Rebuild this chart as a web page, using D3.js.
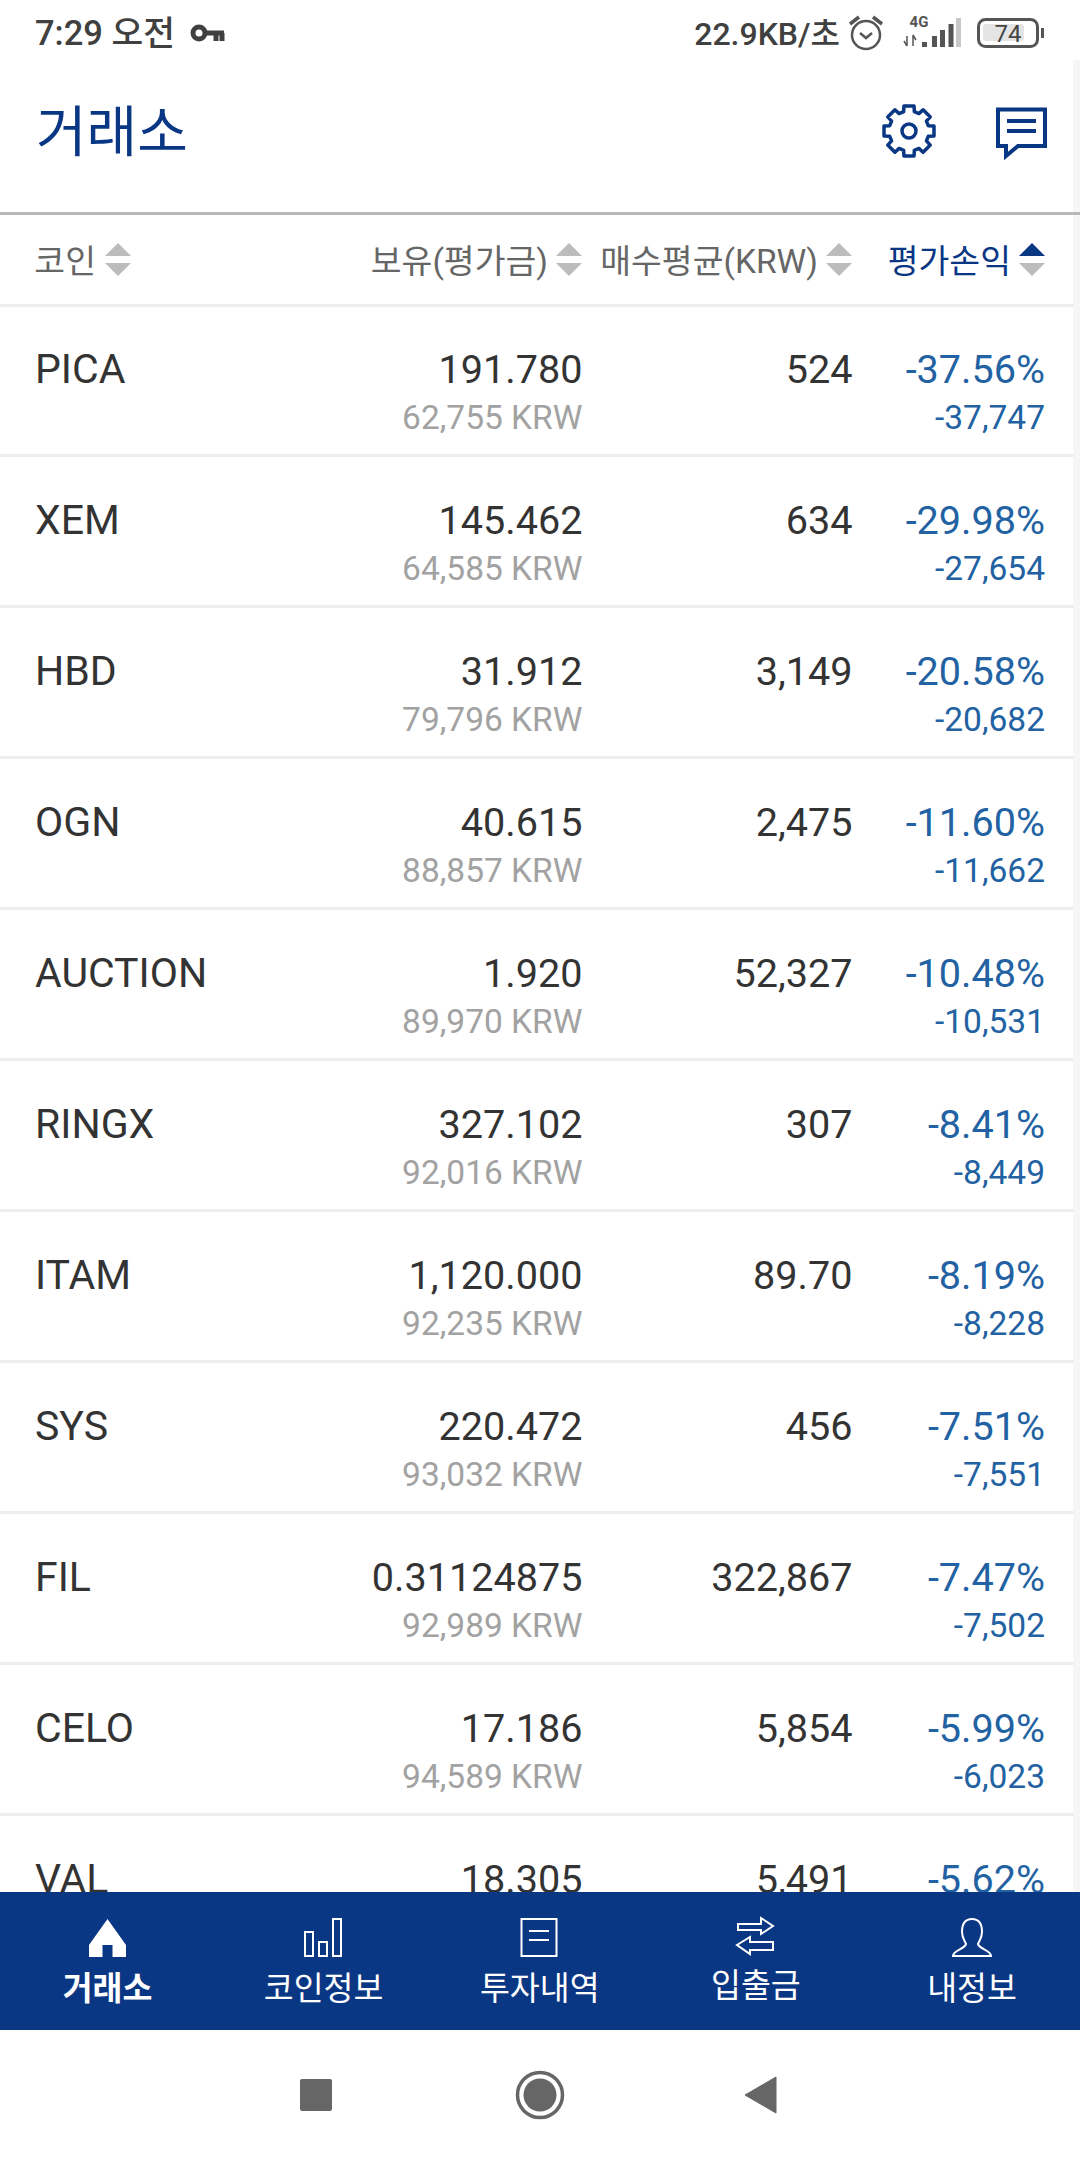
<!DOCTYPE html>
<html lang="ko">
<head>
<meta charset="utf-8">
<script src="https://cdn.jsdelivr.net/npm/d3@7"></script>
<style>
html, body { margin: 0; padding: 0; background: #fff; }
svg { display: block; }
text { font-family: Roboto, "Noto Sans CJK KR", sans-serif; }
</style>
</head>
<body>
<div id="chart"></div>
<script>
// Table data
var coins = ["PICA", "XEM", "HBD", "OGN", "AUCTION", "RINGX", "ITAM", "SYS", "FIL", "CELO", "VAL"];
var holdings = ["191.780", "145.462", "31.912", "40.615", "1.920", "327.102", "1,120.000", "220.472", "0.31124875", "17.186", "18.305"];
var valuations = ["62,755 KRW", "64,585 KRW", "79,796 KRW", "88,857 KRW", "89,970 KRW", "92,016 KRW", "92,235 KRW", "93,032 KRW", "92,989 KRW", "94,589 KRW", ""];
var avgPrices = ["524", "634", "3,149", "2,475", "52,327", "307", "89.70", "456", "322,867", "5,854", "5,491"];
var profitPct = ["-37.56%", "-29.98%", "-20.58%", "-11.60%", "-10.48%", "-8.41%", "-8.19%", "-7.51%", "-7.47%", "-5.99%", "-5.62%"];
var profitKrw = ["-37,747", "-27,654", "-20,682", "-11,662", "-10,531", "-8,449", "-8,228", "-7,551", "-7,502", "-6,023", ""];

var headers = ["코인", "보유(평가금)", "매수평균(KRW)", "평가손익"];
var navLabels = ["거래소", "코인정보", "투자내역", "입출금", "내정보"];

var navy = "#0a3784";
var blue = "#2262a2";

var svg = d3.select("#chart").append("svg")
    .attr("width", 1080)
    .attr("height", 2160);

svg.append("rect").attr("width", 1080).attr("height", 2160).attr("fill", "#fff");

// faint shadow down the right edge of the page
svg.append("rect").attr("x", 1073).attr("y", 60).attr("width", 7).attr("height", 1832).attr("fill", "#f6f6f6");

// scales
var rowY = d3.scaleBand().domain(d3.range(coins.length)).range([304, 304 + 151 * coins.length]);
var navX = d3.scalePoint().domain(navLabels).range([107.5, 972]);

////////////////////////////////////////////////////////////////
// rows
var rows = svg.append("g").selectAll("g")
    .data(coins)
    .enter().append("g")
    .attr("transform", function(d, i) { return "translate(0," + rowY(i) + ")"; });

rows.append("rect")
    .attr("y", 150).attr("width", 1074).attr("height", 3)
    .attr("fill", "#eeeeee");

function cell(x, y, size, color, anchor, values) {
    rows.append("text")
        .attr("x", x).attr("y", y)
        .attr("font-size", size)
        .attr("fill", color)
        .attr("text-anchor", anchor)
        .text(function(d, i) { return values[i]; });
}

cell(35, 79, 41, "#333", "start", coins);
cell(582.5, 79, 39.6, "#333", "end", holdings);
cell(852.5, 79, 39.6, "#333", "end", avgPrices);
cell(1045, 79, 39.6, blue, "end", profitPct);
cell(582.5, 125, 33.5, "#a2a2a2", "end", valuations);
cell(1045, 125, 33.5, blue, "end", profitKrw);

////////////////////////////////////////////////////////////////
// header row
svg.append("rect").attr("y", 304).attr("width", 1074).attr("height", 3).attr("fill", "#eeeeee");
svg.append("rect").attr("y", 212).attr("width", 1080).attr("height", 3).attr("fill", "#b8b8b8");

var headerRight = [96, 548, 818, 1011];
var arrowX = [118, 569, 839, 1032];

svg.append("g").selectAll("text")
    .data(headers)
    .enter().append("text")
    .attr("x", function(d, i) { return headerRight[i]; })
    .attr("y", 273)
    .attr("text-anchor", "end")
    .attr("font-size", 33.5)
    .attr("fill", function(d, i) { return i == 3 ? navy : "#666"; })
    .text(function(d) { return d; });

arrowX.forEach(function(x, i) {
    svg.append("path")
        .attr("d", "M" + (x - 13) + " 256L" + x + " 243L" + (x + 13) + " 256Z")
        .attr("fill", i == 3 ? navy : "#bcbcbc");
    svg.append("path")
        .attr("d", "M" + (x - 13) + " 263L" + x + " 276L" + (x + 13) + " 263Z")
        .attr("fill", "#bcbcbc");
});

////////////////////////////////////////////////////////////////
// status bar
svg.append("text").attr("x", 35).attr("y", 45).attr("font-size", 34.5).attr("font-weight", 500).attr("fill", "#404040").text("7:29 오전");

var keyIcon = svg.append("g").attr("fill", "none").attr("stroke", "#404040");
keyIcon.append("circle").attr("cx", 199).attr("cy", 33).attr("r", 6).attr("stroke-width", 5);
keyIcon.append("path").attr("d", "M206 33H224M216 33V41M222 33V41").attr("stroke-width", 5);

svg.append("text").attr("x", 840).attr("y", 45).attr("text-anchor", "end").attr("font-size", 32).attr("font-weight", 500).attr("fill", "#404040").text("22.9KB/초");

var alarm = svg.append("g").attr("fill", "none").attr("stroke", "#555").attr("stroke-width", 2.5);
alarm.append("circle").attr("cx", 866).attr("cy", 35).attr("r", 14);
alarm.append("path").attr("d", "M860 33L866 38L872 33");
alarm.append("path").attr("d", "M850 24L859 17M882 24L873 17").attr("stroke-width", 3.5);

svg.append("text").attr("x", 919).attr("y", 27).attr("text-anchor", "middle").attr("font-size", 15).attr("font-weight", 700).attr("fill", "#555").text("4G");
svg.append("path").attr("d", "M907 46V36M904 41L907 46M913 35V46M913 35L916 40").attr("fill", "none").attr("stroke", "#555").attr("stroke-width", 1.5);

var barLeft = [922, 932, 940, 948.5, 956];
var barTop = [42, 36, 30, 24, 18];
svg.append("g").selectAll("rect")
    .data(barLeft)
    .enter().append("rect")
    .attr("x", function(d) { return d; })
    .attr("y", function(d, i) { return barTop[i]; })
    .attr("width", 5)
    .attr("height", function(d, i) { return 47 - barTop[i]; })
    .attr("fill", function(d, i) { return i == 4 ? "#c8c8c8" : "#555"; });

svg.append("rect").attr("x", 983).attr("y", 24).attr("width", 41).attr("height", 17).attr("rx", 3).attr("fill", "#e4e4e4");
svg.append("rect").attr("x", 978.5).attr("y", 19.5).attr("width", 59).attr("height", 27).attr("rx", 7).attr("fill", "none").attr("stroke", "#555").attr("stroke-width", 3);
svg.append("rect").attr("x", 1041).attr("y", 28).attr("width", 3).attr("height", 10).attr("fill", "#555");
svg.append("text").attr("x", 1008).attr("y", 42).attr("text-anchor", "middle").attr("font-size", 24).attr("fill", "#444").text("74");

////////////////////////////////////////////////////////////////
// title bar
svg.append("text").attr("x", 36).attr("y", 151).attr("font-size", 55).attr("fill", navy).text("거래소");

var gear = svg.append("g").attr("transform", "translate(909,131)").attr("fill", "none").attr("stroke", navy).attr("stroke-width", 3.5);
gear.append("circle").attr("r", 7);
var gearPts = [];
d3.range(8).forEach(function(i) {
    var a = i * Math.PI / 4 - Math.PI / 2;
    [[-0.27, 20], [-0.2, 25.5], [0.2, 25.5], [0.27, 20]].forEach(function(p) {
        gearPts.push([Math.cos(a + p[0]) * p[1], Math.sin(a + p[0]) * p[1]]);
    });
});
gear.append("path").attr("d", d3.line().curve(d3.curveLinearClosed)(gearPts)).attr("stroke-linejoin", "round");

svg.append("path")
    .attr("d", "M998 109.5H1045V146H1018L1006 156V146H998Z")
    .attr("fill", "none").attr("stroke", navy).attr("stroke-width", 4);
svg.append("path").attr("d", "M1007 121H1036M1007 131H1036").attr("stroke", navy).attr("stroke-width", 4);

////////////////////////////////////////////////////////////////
// bottom tab bar
svg.append("rect").attr("y", 1892).attr("width", 1080).attr("height", 138).attr("fill", navy);

svg.append("g").selectAll("text")
    .data(navLabels)
    .enter().append("text")
    .attr("x", function(d) { return navX(d); })
    .attr("y", function(d, i) { return i == 3 ? 1997 : 2000; })
    .attr("text-anchor", "middle")
    .attr("font-size", 32.5)
    .attr("font-weight", function(d, i) { return i == 0 ? 700 : 400; })
    .attr("fill", "#fff")
    .text(function(d) { return d; });

var iconStroke = function(sel) { return sel.attr("fill", "none").attr("stroke", "#fff").attr("stroke-width", 2); };

// home
svg.append("path")
    .attr("d", "M107.5 1919L126 1945V1957H112.5V1945H102.5V1957H89V1945Z")
    .attr("fill", "#fff");

// bars
[[305, 1932, 8, 24], [319, 1942, 8, 14], [333, 1919, 8, 37]].forEach(function(b) {
    iconStroke(svg.append("rect")).attr("x", b[0]).attr("y", b[1]).attr("width", b[2]).attr("height", b[3]);
});

// document
iconStroke(svg.append("rect")).attr("x", 521.5).attr("y", 1919).attr("width", 35).attr("height", 37);
iconStroke(svg.append("path")).attr("d", "M529 1931H549M529 1940H549");

// transfer arrows
iconStroke(svg.append("path")).attr("d", "M738 1924H761V1918L773 1926L761 1934V1930H738Z");
iconStroke(svg.append("path")).attr("d", "M773 1942H750V1937L737 1945L750 1954V1950H773Z");

// person
iconStroke(svg.append("path")).attr("d", "M972 1919C964 1919 962 1926 962 1932C962 1938 965 1941 966 1944C965 1949 953 1950 953 1956H991C991 1950 979 1949 978 1944C979 1941 982 1938 982 1932C982 1926 980 1919 972 1919Z");

////////////////////////////////////////////////////////////////
// system navigation buttons
svg.append("rect").attr("x", 300).attr("y", 2079).attr("width", 32).attr("height", 32).attr("rx", 2).attr("fill", "#666");
svg.append("circle").attr("cx", 540).attr("cy", 2095).attr("r", 22.5).attr("fill", "#fff").attr("stroke", "#666").attr("stroke-width", 3.5);
svg.append("circle").attr("cx", 540).attr("cy", 2095).attr("r", 16.5).attr("fill", "#666");
svg.append("path").attr("d", "M776 2077V2113L745 2095Z").attr("fill", "#666").attr("stroke", "#666").attr("stroke-linejoin", "round");
</script>
</body>
</html>
